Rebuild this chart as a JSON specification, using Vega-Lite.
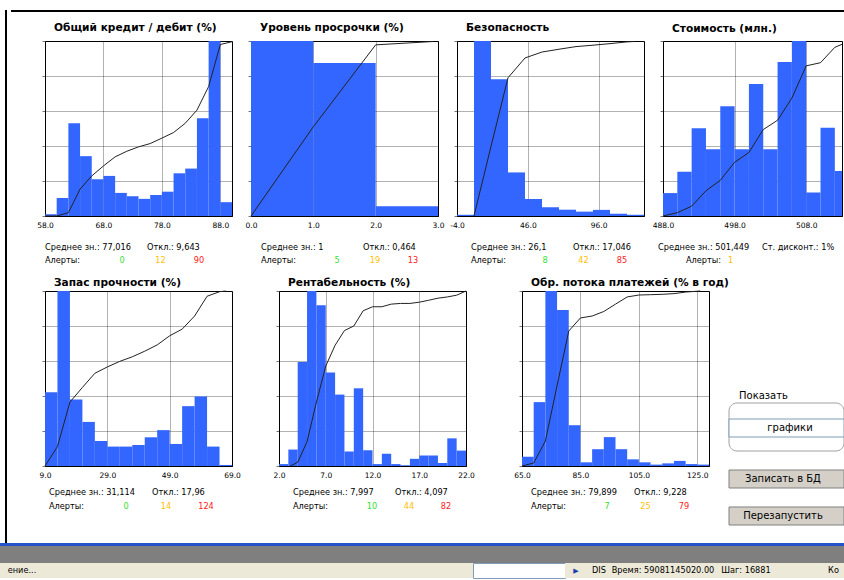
{
"$schema": "https://vega.github.io/schema/vega-lite/v6.json",
"background": "white",
"padding": {"left": 0, "top": 10, "right": 0, "bottom": 0},
"spacing": 0,
"datasets": {
"bars": [
{"panel":"p1","x0":58,"x1":60,"share":0.01},{"panel":"p1","x0":60,"x1":62,"share":0.103},{"panel":"p1","x0":62,"x1":64,"share":0.53},{"panel":"p1","x0":64,"x1":66,"share":0.342},{"panel":"p1","x0":66,"x1":68,"share":0.21},{"panel":"p1","x0":68,"x1":70,"share":0.229},{"panel":"p1","x0":70,"x1":72,"share":0.132},{"panel":"p1","x0":72,"x1":74,"share":0.113},{"panel":"p1","x0":74,"x1":76,"share":0.098},{"panel":"p1","x0":76,"x1":78,"share":0.12},{"panel":"p1","x0":78,"x1":80,"share":0.139},{"panel":"p1","x0":80,"x1":82,"share":0.244},{"panel":"p1","x0":82,"x1":84,"share":0.271},{"panel":"p1","x0":84,"x1":86,"share":0.558},{"panel":"p1","x0":86,"x1":88,"share":1.0},{"panel":"p1","x0":88,"x1":90,"share":0.079},
{"panel":"p2","x0":0,"x1":1,"share":1.0},{"panel":"p2","x0":1,"x1":2,"share":0.875},{"panel":"p2","x0":2,"x1":3,"share":0.056},
{"panel":"p3","x0":-4,"x1":8,"share":0.007},{"panel":"p3","x0":8,"x1":20,"share":1.0},{"panel":"p3","x0":20,"x1":32,"share":0.781},{"panel":"p3","x0":32,"x1":44,"share":0.249},{"panel":"p3","x0":44,"x1":56,"share":0.097},{"panel":"p3","x0":56,"x1":68,"share":0.05},{"panel":"p3","x0":68,"x1":80,"share":0.036},{"panel":"p3","x0":80,"x1":92,"share":0.025},{"panel":"p3","x0":92,"x1":104,"share":0.035},{"panel":"p3","x0":104,"x1":116,"share":0.013},{"panel":"p3","x0":116,"x1":128,"share":0.007},
{"panel":"p4","x0":488,"x1":490,"share":0.131},{"panel":"p4","x0":490,"x1":492,"share":0.253},{"panel":"p4","x0":492,"x1":494,"share":0.502},{"panel":"p4","x0":494,"x1":496,"share":0.382},{"panel":"p4","x0":496,"x1":498,"share":0.627},{"panel":"p4","x0":498,"x1":500,"share":0.382},{"panel":"p4","x0":500,"x1":502,"share":0.755},{"panel":"p4","x0":502,"x1":504,"share":0.382},{"panel":"p4","x0":504,"x1":506,"share":0.88},{"panel":"p4","x0":506,"x1":508,"share":1.0},{"panel":"p4","x0":508,"x1":510,"share":0.134},{"panel":"p4","x0":510,"x1":512,"share":0.504},{"panel":"p4","x0":512,"x1":514,"share":0.257},
{"panel":"p5","x0":9,"x1":13,"share":0.421},{"panel":"p5","x0":13,"x1":17,"share":1.0},{"panel":"p5","x0":17,"x1":21,"share":0.38},{"panel":"p5","x0":21,"x1":25,"share":0.252},{"panel":"p5","x0":25,"x1":29,"share":0.143},{"panel":"p5","x0":29,"x1":33,"share":0.111},{"panel":"p5","x0":33,"x1":37,"share":0.111},{"panel":"p5","x0":37,"x1":41,"share":0.12},{"panel":"p5","x0":41,"x1":45,"share":0.164},{"panel":"p5","x0":45,"x1":49,"share":0.205},{"panel":"p5","x0":49,"x1":53,"share":0.126},{"panel":"p5","x0":53,"x1":57,"share":0.342},{"panel":"p5","x0":57,"x1":61,"share":0.397},{"panel":"p5","x0":61,"x1":65,"share":0.111},{"panel":"p5","x0":65,"x1":69,"share":0.006},
{"panel":"p6","x0":2,"x1":3,"share":0.011},{"panel":"p6","x0":3,"x1":4,"share":0.094},{"panel":"p6","x0":4,"x1":5,"share":0.594},{"panel":"p6","x0":5,"x1":6,"share":1.0},{"panel":"p6","x0":6,"x1":7,"share":0.919},{"panel":"p6","x0":7,"x1":8,"share":0.534},{"panel":"p6","x0":8,"x1":9,"share":0.408},{"panel":"p6","x0":9,"x1":10,"share":0.083},{"panel":"p6","x0":10,"x1":11,"share":0.444},{"panel":"p6","x0":11,"x1":12,"share":0.09},{"panel":"p6","x0":12,"x1":13,"share":0.011},{"panel":"p6","x0":13,"x1":14,"share":0.07},{"panel":"p6","x0":14,"x1":15,"share":0.011},{"panel":"p6","x0":15,"x1":16,"share":0.004},{"panel":"p6","x0":16,"x1":17,"share":0.041},{"panel":"p6","x0":17,"x1":18,"share":0.06},{"panel":"p6","x0":18,"x1":19,"share":0.06},{"panel":"p6","x0":19,"x1":20,"share":0.017},{"panel":"p6","x0":20,"x1":21,"share":0.158},{"panel":"p6","x0":21,"x1":22,"share":0.088},
{"panel":"p7","x0":65,"x1":69,"share":0.053},{"panel":"p7","x0":69,"x1":73,"share":0.365},{"panel":"p7","x0":73,"x1":77,"share":1.0},{"panel":"p7","x0":77,"x1":81,"share":0.891},{"panel":"p7","x0":81,"x1":85,"share":0.233},{"panel":"p7","x0":85,"x1":89,"share":0.021},{"panel":"p7","x0":89,"x1":93,"share":0.096},{"panel":"p7","x0":93,"x1":97,"share":0.165},{"panel":"p7","x0":97,"x1":101,"share":0.096},{"panel":"p7","x0":101,"x1":105,"share":0.038},{"panel":"p7","x0":105,"x1":109,"share":0.021},{"panel":"p7","x0":109,"x1":113,"share":0.008},{"panel":"p7","x0":113,"x1":117,"share":0.015},{"panel":"p7","x0":117,"x1":121,"share":0.029},{"panel":"p7","x0":121,"x1":125,"share":0.011},{"panel":"p7","x0":125,"x1":129,"share":0.008}
],
"cum": [
{"panel":"p1","x":58,"cum":0},{"panel":"p1","x":60,"cum":0},{"panel":"p1","x":62,"cum":0.019},{"panel":"p1","x":64,"cum":0.154},{"panel":"p1","x":66,"cum":0.229},{"panel":"p1","x":68,"cum":0.286},{"panel":"p1","x":70,"cum":0.338},{"panel":"p1","x":72,"cum":0.37},{"panel":"p1","x":74,"cum":0.395},{"panel":"p1","x":76,"cum":0.414},{"panel":"p1","x":78,"cum":0.445},{"panel":"p1","x":80,"cum":0.477},{"panel":"p1","x":82,"cum":0.53},{"panel":"p1","x":84,"cum":0.605},{"panel":"p1","x":86,"cum":0.74},{"panel":"p1","x":88,"cum":0.98},{"panel":"p1","x":90,"cum":0.996},
{"panel":"p2","x":0,"cum":0},{"panel":"p2","x":1,"cum":0.51},{"panel":"p2","x":2,"cum":0.978},{"panel":"p2","x":2.92,"cum":0.997},
{"panel":"p3","x":8,"cum":0},{"panel":"p3","x":20,"cum":0.398},{"panel":"p3","x":32,"cum":0.79},{"panel":"p3","x":44,"cum":0.903},{"panel":"p3","x":56,"cum":0.937},{"panel":"p3","x":68,"cum":0.953},{"panel":"p3","x":80,"cum":0.968},{"panel":"p3","x":92,"cum":0.976},{"panel":"p3","x":104,"cum":0.985},{"panel":"p3","x":116,"cum":0.995},{"panel":"p3","x":121,"cum":0.997},
{"panel":"p4","x":488,"cum":0},{"panel":"p4","x":490,"cum":0.019},{"panel":"p4","x":492,"cum":0.056},{"panel":"p4","x":494,"cum":0.144},{"panel":"p4","x":496,"cum":0.204},{"panel":"p4","x":498,"cum":0.307},{"panel":"p4","x":500,"cum":0.363},{"panel":"p4","x":502,"cum":0.494},{"panel":"p4","x":504,"cum":0.547},{"panel":"p4","x":506,"cum":0.674},{"panel":"p4","x":508,"cum":0.858},{"panel":"p4","x":510,"cum":0.876},{"panel":"p4","x":512,"cum":0.964},{"panel":"p4","x":514,"cum":0.998},
{"panel":"p5","x":9,"cum":0},{"panel":"p5","x":13,"cum":0.111},{"panel":"p5","x":17,"cum":0.365},{"panel":"p5","x":21,"cum":0.449},{"panel":"p5","x":25,"cum":0.53},{"panel":"p5","x":29,"cum":0.566},{"panel":"p5","x":33,"cum":0.598},{"panel":"p5","x":37,"cum":0.624},{"panel":"p5","x":41,"cum":0.656},{"panel":"p5","x":45,"cum":0.692},{"panel":"p5","x":49,"cum":0.744},{"panel":"p5","x":53,"cum":0.782},{"panel":"p5","x":57,"cum":0.857},{"panel":"p5","x":61,"cum":0.97},{"panel":"p5","x":65,"cum":0.996},{"panel":"p5","x":67,"cum":1.0},
{"panel":"p6","x":3.2,"cum":0},{"panel":"p6","x":4,"cum":0.021},{"panel":"p6","x":5,"cum":0.139},{"panel":"p6","x":6,"cum":0.365},{"panel":"p6","x":7,"cum":0.571},{"panel":"p6","x":8,"cum":0.69},{"panel":"p6","x":9,"cum":0.774},{"panel":"p6","x":10,"cum":0.8},{"panel":"p6","x":11,"cum":0.887},{"panel":"p6","x":12,"cum":0.91},{"panel":"p6","x":13,"cum":0.91},{"panel":"p6","x":14,"cum":0.925},{"panel":"p6","x":15,"cum":0.929},{"panel":"p6","x":16,"cum":0.929},{"panel":"p6","x":17,"cum":0.936},{"panel":"p6","x":18,"cum":0.947},{"panel":"p6","x":19,"cum":0.959},{"panel":"p6","x":20,"cum":0.966},{"panel":"p6","x":21,"cum":0.976},{"panel":"p6","x":22,"cum":1.0},
{"panel":"p7","x":65,"cum":0},{"panel":"p7","x":69,"cum":0.017},{"panel":"p7","x":73,"cum":0.143},{"panel":"p7","x":77,"cum":0.459},{"panel":"p7","x":81,"cum":0.771},{"panel":"p7","x":85,"cum":0.846},{"panel":"p7","x":89,"cum":0.857},{"panel":"p7","x":93,"cum":0.883},{"panel":"p7","x":97,"cum":0.925},{"panel":"p7","x":101,"cum":0.966},{"panel":"p7","x":105,"cum":0.977},{"panel":"p7","x":109,"cum":0.979},{"panel":"p7","x":113,"cum":0.981},{"panel":"p7","x":117,"cum":0.985},{"panel":"p7","x":121,"cum":0.994},{"panel":"p7","x":126,"cum":1.0}
],
"stats": [
{"panel":"p1","row":"1","slot":"a","tone":"label","text":"Среднее зн.: 77,016"},{"panel":"p1","row":"1","slot":"b","tone":"label","text":"Откл.: 9,643"},{"panel":"p1","row":"2","slot":"a","tone":"label","text":"Алерты:"},{"panel":"p1","row":"2","slot":"green","tone":"green","text":"0"},{"panel":"p1","row":"2","slot":"yellow","tone":"yellow","text":"12"},{"panel":"p1","row":"2","slot":"red","tone":"red","text":"90"},
{"panel":"p2","row":"1","slot":"a","tone":"label","text":"Среднее зн.: 1"},{"panel":"p2","row":"1","slot":"b","tone":"label","text":"Откл.: 0,464"},{"panel":"p2","row":"2","slot":"a","tone":"label","text":"Алерты:"},{"panel":"p2","row":"2","slot":"green","tone":"green","text":"5"},{"panel":"p2","row":"2","slot":"yellow","tone":"yellow","text":"19"},{"panel":"p2","row":"2","slot":"red","tone":"red","text":"13"},
{"panel":"p3","row":"1","slot":"a","tone":"label","text":"Среднее зн.: 26,1"},{"panel":"p3","row":"1","slot":"b","tone":"label","text":"Откл.: 17,046"},{"panel":"p3","row":"2","slot":"a","tone":"label","text":"Алерты:"},{"panel":"p3","row":"2","slot":"green","tone":"green","text":"8"},{"panel":"p3","row":"2","slot":"yellow","tone":"yellow","text":"42"},{"panel":"p3","row":"2","slot":"red","tone":"red","text":"85"},
{"panel":"p4","row":"1","slot":"a","tone":"label","text":"Среднее зн.: 501,449"},{"panel":"p4","row":"1","slot":"b","tone":"label","text":"Ст. дисконт.: 1%"},{"panel":"p4","row":"2","slot":"c","tone":"label2","text":"Алерты:"},{"panel":"p4","row":"2","slot":"yellow","tone":"yellow","text":"1"},
{"panel":"p5","row":"1","slot":"a","tone":"label","text":"Среднее зн.: 31,114"},{"panel":"p5","row":"1","slot":"b","tone":"label","text":"Откл.: 17,96"},{"panel":"p5","row":"2","slot":"a","tone":"label","text":"Алерты:"},{"panel":"p5","row":"2","slot":"green","tone":"green","text":"0"},{"panel":"p5","row":"2","slot":"yellow","tone":"yellow","text":"14"},{"panel":"p5","row":"2","slot":"red","tone":"red","text":"124"},
{"panel":"p6","row":"1","slot":"a","tone":"label","text":"Среднее зн.: 7,997"},{"panel":"p6","row":"1","slot":"b","tone":"label","text":"Откл.: 4,097"},{"panel":"p6","row":"2","slot":"a","tone":"label","text":"Алерты:"},{"panel":"p6","row":"2","slot":"green","tone":"green","text":"10"},{"panel":"p6","row":"2","slot":"yellow","tone":"yellow","text":"44"},{"panel":"p6","row":"2","slot":"red","tone":"red","text":"82"},
{"panel":"p7","row":"1","slot":"a","tone":"label","text":"Среднее зн.: 79,899"},{"panel":"p7","row":"1","slot":"b","tone":"label","text":"Откл.: 9,228"},{"panel":"p7","row":"2","slot":"a","tone":"label","text":"Алерты:"},{"panel":"p7","row":"2","slot":"green","tone":"green","text":"7"},{"panel":"p7","row":"2","slot":"yellow","tone":"yellow","text":"25"},{"panel":"p7","row":"2","slot":"red","tone":"red","text":"79"}
],
"controls": [
{"item":"box","kind":"box"},{"item":"Показать","kind":"label"},{"item":"графики","kind":"field"},{"item":"Записать в БД","kind":"button"},{"item":"Перезапустить","kind":"button"}
]
},
"vconcat": [
{"hconcat": [
 {"width":1,"height":1,"view":{"fill":"white","stroke":null},"data":{"values":[]},"mark":"point"},
 {"width":2,"height":533,"view":{"fill":"#000","stroke":null},"data":{"values":[]},"mark":"point"},
 {"vconcat": [
  {"width":833,"height":2,"view":{"fill":"#000","stroke":null},"data":{"values":[]},"mark":"point"},
  {"vconcat": [
{"hconcat": [
 {"width":15,"height":175,"view":{"fill":"white","stroke":null},"data":{"values":[]},"mark":"point"},
 {"title":{"text":"Общий кредит / дебит (%)","dx":9},"width":187,"height":175,"resolve":{"scale":{"x":"independent","y":"independent"}},"layer":[
  {"layer":[
   {"data":{"name":"bars"},"transform":[{"filter":"datum.panel === 'p1'"}],"mark":{"type":"rect","color":"#3366ff"},
    "encoding":{"x":{"field":"x0","type":"quantitative","scale":{"domain":[58,90],"nice":false,"zero":false},"axis":{"values":[58,68,78,88],"format":".1f","title":null}},"x2":{"field":"x1"},
     "y":{"field":"share","type":"quantitative","scale":{"domain":[0,1],"nice":false},"axis":{"tickCount":5,"title":null}},"y2":{"datum":0}}},
   {"data":{"name":"cum"},"transform":[{"filter":"datum.panel === 'p1'"}],"mark":{"type":"line","color":"#222","strokeWidth":1},
    "encoding":{"x":{"field":"x","type":"quantitative"},"y":{"field":"cum","type":"quantitative"}}}]},
  {"data":{"name":"stats"},"transform":[{"filter":"datum.panel === 'p1' && datum.tone === 'label'"}],"mark":{"type":"text","align":"left","baseline":"middle"},
   "encoding":{"x":{"field":"slot","type":"nominal","scale":{"type":"point","domain":["a","b"],"range":[0,102],"padding":0},"axis":null},"y":{"field":"row","type":"nominal","scale":{"type":"point","domain":["1","2"],"range":[207,220],"padding":0},"axis":null},"text":{"field":"text"}}},
  {"data":{"name":"stats"},"transform":[{"filter":"datum.panel === 'p1' && datum.tone !== 'label'"}],"mark":{"type":"text","align":"center","baseline":"middle"},
   "encoding":{"x":{"field":"slot","type":"nominal","scale":{"type":"point","domain":["green","yellow","red"],"range":[77,154],"padding":0},"axis":null},"y":{"field":"row","type":"nominal","scale":{"type":"point","domain":["1","2"],"range":[207,220],"padding":0},"axis":null},"text":{"field":"text"},
    "color":{"field":"tone","type":"nominal","scale":{"domain":["label2","green","yellow","red"],"range":["#000000","#33e033","#ffbf00","#ff2020"]},"legend":null}}}]},
 {"title":{"text":"Уровень просрочки (%)","dx":9},"width":187,"height":175,"resolve":{"scale":{"x":"independent","y":"independent"}},"layer":[
  {"layer":[
   {"data":{"name":"bars"},"transform":[{"filter":"datum.panel === 'p2'"}],"mark":{"type":"rect","color":"#3366ff"},
    "encoding":{"x":{"field":"x0","type":"quantitative","scale":{"domain":[0,3],"nice":false,"zero":false},"axis":{"values":[0,1,2,3],"format":".1f","title":null}},"x2":{"field":"x1"},
     "y":{"field":"share","type":"quantitative","scale":{"domain":[0,1],"nice":false},"axis":{"tickCount":5,"title":null}},"y2":{"datum":0}}},
   {"data":{"name":"cum"},"transform":[{"filter":"datum.panel === 'p2'"}],"mark":{"type":"line","color":"#222","strokeWidth":1},
    "encoding":{"x":{"field":"x","type":"quantitative"},"y":{"field":"cum","type":"quantitative"}}}]},
  {"data":{"name":"stats"},"transform":[{"filter":"datum.panel === 'p2' && datum.tone === 'label'"}],"mark":{"type":"text","align":"left","baseline":"middle"},
   "encoding":{"x":{"field":"slot","type":"nominal","scale":{"type":"point","domain":["a","b"],"range":[10,112],"padding":0},"axis":null},"y":{"field":"row","type":"nominal","scale":{"type":"point","domain":["1","2"],"range":[207,220],"padding":0},"axis":null},"text":{"field":"text"}}},
  {"data":{"name":"stats"},"transform":[{"filter":"datum.panel === 'p2' && datum.tone !== 'label'"}],"mark":{"type":"text","align":"center","baseline":"middle"},
   "encoding":{"x":{"field":"slot","type":"nominal","scale":{"type":"point","domain":["green","yellow","red"],"range":[86,162],"padding":0},"axis":null},"y":{"field":"row","type":"nominal","scale":{"type":"point","domain":["1","2"],"range":[207,220],"padding":0},"axis":null},"text":{"field":"text"},
    "color":{"field":"tone","type":"nominal","scale":{"domain":["label2","green","yellow","red"],"range":["#000000","#33e033","#ffbf00","#ff2020"]},"legend":null}}}]},
 {"title":{"text":"Безопасность","dx":9},"width":187,"height":175,"resolve":{"scale":{"x":"independent","y":"independent"}},"layer":[
  {"layer":[
   {"data":{"name":"bars"},"transform":[{"filter":"datum.panel === 'p3'"}],"mark":{"type":"rect","color":"#3366ff"},
    "encoding":{"x":{"field":"x0","type":"quantitative","scale":{"domain":[-4,128],"nice":false,"zero":false},"axis":{"values":[-4,46,96],"format":".1f","labelExpr":"replace(datum.label, '\u2212', '-')","title":null}},"x2":{"field":"x1"},
     "y":{"field":"share","type":"quantitative","scale":{"domain":[0,1],"nice":false},"axis":{"tickCount":5,"title":null}},"y2":{"datum":0}}},
   {"data":{"name":"cum"},"transform":[{"filter":"datum.panel === 'p3'"}],"mark":{"type":"line","color":"#222","strokeWidth":1},
    "encoding":{"x":{"field":"x","type":"quantitative"},"y":{"field":"cum","type":"quantitative"}}}]},
  {"data":{"name":"stats"},"transform":[{"filter":"datum.panel === 'p3' && datum.tone === 'label'"}],"mark":{"type":"text","align":"left","baseline":"middle"},
   "encoding":{"x":{"field":"slot","type":"nominal","scale":{"type":"point","domain":["a","b"],"range":[14,116],"padding":0},"axis":null},"y":{"field":"row","type":"nominal","scale":{"type":"point","domain":["1","2"],"range":[207,220],"padding":0},"axis":null},"text":{"field":"text"}}},
  {"data":{"name":"stats"},"transform":[{"filter":"datum.panel === 'p3' && datum.tone !== 'label'"}],"mark":{"type":"text","align":"center","baseline":"middle"},
   "encoding":{"x":{"field":"slot","type":"nominal","scale":{"type":"point","domain":["green","yellow","red"],"range":[88,165],"padding":0},"axis":null},"y":{"field":"row","type":"nominal","scale":{"type":"point","domain":["1","2"],"range":[207,220],"padding":0},"axis":null},"text":{"field":"text"},
    "color":{"field":"tone","type":"nominal","scale":{"domain":["label2","green","yellow","red"],"range":["#000000","#33e033","#ffbf00","#ff2020"]},"legend":null}}}]},
 {"title":{"text":"Стоимость (млн.)","dx":9},"width":179,"height":175,"resolve":{"scale":{"x":"independent","y":"independent"}},"layer":[
  {"layer":[
   {"data":{"name":"bars"},"transform":[{"filter":"datum.panel === 'p4'"}],"mark":{"type":"rect","color":"#3366ff","clip":true},
    "encoding":{"x":{"field":"x0","type":"quantitative","scale":{"domain":[488,513],"nice":false,"zero":false},"axis":{"values":[488,498,508],"format":".1f","title":null}},"x2":{"field":"x1"},
     "y":{"field":"share","type":"quantitative","scale":{"domain":[0,1],"nice":false},"axis":{"tickCount":5,"title":null}},"y2":{"datum":0}}},
   {"data":{"name":"cum"},"transform":[{"filter":"datum.panel === 'p4'"}],"mark":{"type":"line","color":"#222","strokeWidth":1,"clip":true},
    "encoding":{"x":{"field":"x","type":"quantitative"},"y":{"field":"cum","type":"quantitative"}}}]},
  {"data":{"name":"stats"},"transform":[{"filter":"datum.panel === 'p4' && datum.tone === 'label'"}],"mark":{"type":"text","align":"left","baseline":"middle"},
   "encoding":{"x":{"field":"slot","type":"nominal","scale":{"type":"point","domain":["a","b"],"range":[-5,99],"padding":0},"axis":null},"y":{"field":"row","type":"nominal","scale":{"type":"point","domain":["1","2"],"range":[207,220],"padding":0},"axis":null},"text":{"field":"text"}}},
  {"data":{"name":"stats"},"transform":[{"filter":"datum.panel === 'p4' && datum.tone !== 'label'"}],"mark":{"type":"text","align":"left","baseline":"middle"},
   "encoding":{"x":{"field":"slot","type":"nominal","scale":{"type":"point","domain":["c","yellow"],"range":[23,65],"padding":0},"axis":null},"y":{"field":"row","type":"nominal","scale":{"type":"point","domain":["1","2"],"range":[207,220],"padding":0},"axis":null},"text":{"field":"text"},
    "color":{"field":"tone","type":"nominal","scale":{"domain":["label2","green","yellow","red"],"range":["#000000","#33e033","#ffbf00","#ff2020"]},"legend":null}}}]}
], "spacing": 19, "bounds": "flush"},
{"hconcat": [
 {"width":14,"height":175,"view":{"fill":"white","stroke":null},"data":{"values":[]},"mark":"point"},
 {"title":{"text":"Запас прочности (%)","dx":9,"offset":0},"width":187,"height":175,"resolve":{"scale":{"x":"independent","y":"independent"}},"layer":[
  {"layer":[
   {"data":{"name":"bars"},"transform":[{"filter":"datum.panel === 'p5'"}],"mark":{"type":"rect","color":"#3366ff"},
    "encoding":{"x":{"field":"x0","type":"quantitative","scale":{"domain":[9,69],"nice":false,"zero":false},"axis":{"values":[9,29,49,69],"format":".1f","title":null}},"x2":{"field":"x1"},
     "y":{"field":"share","type":"quantitative","scale":{"domain":[0,1],"nice":false},"axis":{"tickCount":5,"title":null}},"y2":{"datum":0}}},
   {"data":{"name":"cum"},"transform":[{"filter":"datum.panel === 'p5'"}],"mark":{"type":"line","color":"#222","strokeWidth":1},
    "encoding":{"x":{"field":"x","type":"quantitative"},"y":{"field":"cum","type":"quantitative"}}}]},
  {"data":{"name":"stats"},"transform":[{"filter":"datum.panel === 'p5' && datum.tone === 'label'"}],"mark":{"type":"text","align":"left","baseline":"middle"},
   "encoding":{"x":{"field":"slot","type":"nominal","scale":{"type":"point","domain":["a","b"],"range":[4,107],"padding":0},"axis":null},"y":{"field":"row","type":"nominal","scale":{"type":"point","domain":["1","2"],"range":[202,216],"padding":0},"axis":null},"text":{"field":"text"}}},
  {"data":{"name":"stats"},"transform":[{"filter":"datum.panel === 'p5' && datum.tone !== 'label'"}],"mark":{"type":"text","align":"center","baseline":"middle"},
   "encoding":{"x":{"field":"slot","type":"nominal","scale":{"type":"point","domain":["green","yellow","red"],"range":[81,161],"padding":0},"axis":null},"y":{"field":"row","type":"nominal","scale":{"type":"point","domain":["1","2"],"range":[202,216],"padding":0},"axis":null},"text":{"field":"text"},
    "color":{"field":"tone","type":"nominal","scale":{"domain":["label2","green","yellow","red"],"range":["#000000","#33e033","#ffbf00","#ff2020"]},"legend":null}}}]},
 {"width":7,"height":175,"view":{"stroke":null},"data":{"values":[]},"mark":"point"},
 {"title":{"text":"Рентабельность (%)","dx":9,"offset":0},"width":187,"height":175,"resolve":{"scale":{"x":"independent","y":"independent"}},"layer":[
  {"layer":[
   {"data":{"name":"bars"},"transform":[{"filter":"datum.panel === 'p6'"}],"mark":{"type":"rect","color":"#3366ff"},
    "encoding":{"x":{"field":"x0","type":"quantitative","scale":{"domain":[2,22],"nice":false,"zero":false},"axis":{"values":[2,7,12,17,22],"format":".1f","title":null}},"x2":{"field":"x1"},
     "y":{"field":"share","type":"quantitative","scale":{"domain":[0,1],"nice":false},"axis":{"tickCount":5,"title":null}},"y2":{"datum":0}}},
   {"data":{"name":"cum"},"transform":[{"filter":"datum.panel === 'p6'"}],"mark":{"type":"line","color":"#222","strokeWidth":1},
    "encoding":{"x":{"field":"x","type":"quantitative"},"y":{"field":"cum","type":"quantitative"}}}]},
  {"data":{"name":"stats"},"transform":[{"filter":"datum.panel === 'p6' && datum.tone === 'label'"}],"mark":{"type":"text","align":"left","baseline":"middle"},
   "encoding":{"x":{"field":"slot","type":"nominal","scale":{"type":"point","domain":["a","b"],"range":[14,116],"padding":0},"axis":null},"y":{"field":"row","type":"nominal","scale":{"type":"point","domain":["1","2"],"range":[202,216],"padding":0},"axis":null},"text":{"field":"text"}}},
  {"data":{"name":"stats"},"transform":[{"filter":"datum.panel === 'p6' && datum.tone !== 'label'"}],"mark":{"type":"text","align":"center","baseline":"middle"},
   "encoding":{"x":{"field":"slot","type":"nominal","scale":{"type":"point","domain":["green","yellow","red"],"range":[93,167],"padding":0},"axis":null},"y":{"field":"row","type":"nominal","scale":{"type":"point","domain":["1","2"],"range":[202,216],"padding":0},"axis":null},"text":{"field":"text"},
    "color":{"field":"tone","type":"nominal","scale":{"domain":["label2","green","yellow","red"],"range":["#000000","#33e033","#ffbf00","#ff2020"]},"legend":null}}}]},
 {"width":16,"height":175,"view":{"stroke":null},"data":{"values":[]},"mark":"point"},
 {"title":{"text":"Обр. потока платежей (% в год)","dx":9,"offset":0},"width":187,"height":175,"resolve":{"scale":{"x":"independent","y":"independent"}},"layer":[
  {"layer":[
   {"data":{"name":"bars"},"transform":[{"filter":"datum.panel === 'p7'"}],"mark":{"type":"rect","color":"#3366ff"},
    "encoding":{"x":{"field":"x0","type":"quantitative","scale":{"domain":[65,129],"nice":false,"zero":false},"axis":{"values":[65,85,105,125],"format":".1f","title":null}},"x2":{"field":"x1"},
     "y":{"field":"share","type":"quantitative","scale":{"domain":[0,1],"nice":false},"axis":{"tickCount":5,"title":null}},"y2":{"datum":0}}},
   {"data":{"name":"cum"},"transform":[{"filter":"datum.panel === 'p7'"}],"mark":{"type":"line","color":"#222","strokeWidth":1},
    "encoding":{"x":{"field":"x","type":"quantitative"},"y":{"field":"cum","type":"quantitative"}}}]},
  {"data":{"name":"stats"},"transform":[{"filter":"datum.panel === 'p7' && datum.tone === 'label'"}],"mark":{"type":"text","align":"left","baseline":"middle"},
   "encoding":{"x":{"field":"slot","type":"nominal","scale":{"type":"point","domain":["a","b"],"range":[9,112],"padding":0},"axis":null},"y":{"field":"row","type":"nominal","scale":{"type":"point","domain":["1","2"],"range":[202,216],"padding":0},"axis":null},"text":{"field":"text"}}},
  {"data":{"name":"stats"},"transform":[{"filter":"datum.panel === 'p7' && datum.tone !== 'label'"}],"mark":{"type":"text","align":"center","baseline":"middle"},
   "encoding":{"x":{"field":"slot","type":"nominal","scale":{"type":"point","domain":["green","yellow","red"],"range":[85,162],"padding":0},"axis":null},"y":{"field":"row","type":"nominal","scale":{"type":"point","domain":["1","2"],"range":[202,216],"padding":0},"axis":null},"text":{"field":"text"},
    "color":{"field":"tone","type":"nominal","scale":{"domain":["label2","green","yellow","red"],"range":["#000000","#33e033","#ffbf00","#ff2020"]},"legend":null}}}]},
 {"width":115,"height":234,"view":{"stroke":null},"data":{"name":"controls"},"resolve":{"scale":{"y":"independent"}},"layer":[
  {"transform":[{"filter":"datum.kind === 'box'"}],"mark":{"type":"rect","filled":false,"color":"#a0a0a0","strokeWidth":1,"cornerRadius":8},
   "encoding":{"y":{"field":"item","type":"nominal","scale":{"type":"band","domain":["box"],"range":[112,160],"paddingInner":0,"paddingOuter":0},"axis":null}}},
  {"transform":[{"filter":"datum.kind === 'field'"}],"mark":{"type":"rect","fill":"white","stroke":"#7f9db9","strokeWidth":1},
   "encoding":{"y":{"field":"item","type":"nominal","scale":{"type":"band","domain":["графики"],"range":[128,146],"paddingInner":0,"paddingOuter":0},"axis":null}}},
  {"transform":[{"filter":"datum.kind === 'button'"}],"mark":{"type":"rect","fill":"#d4d0c8","stroke":"#808080","strokeWidth":1},
   "encoding":{"y":{"field":"item","type":"nominal","scale":{"type":"band","domain":["Записать в БД","Перезапустить"],"range":[179,234],"paddingInner":0.5135,"paddingOuter":0},"axis":null}}},
  {"transform":[{"filter":"datum.kind === 'label'"}],"mark":{"type":"text","align":"left","baseline":"middle","dx":-47.5,"font":"DejaVu Sans","fontSize":10},
   "encoding":{"y":{"field":"item","type":"nominal","scale":{"type":"point","domain":["Показать","графики"],"range":[105,136],"padding":0},"axis":null},"text":{"field":"item"}}},
  {"transform":[{"filter":"datum.kind === 'field'"}],"mark":{"type":"text","align":"center","baseline":"middle","dx":3.5,"font":"DejaVu Sans","fontSize":10},
   "encoding":{"y":{"field":"item","type":"nominal","scale":{"type":"point","domain":["Показать","графики"],"range":[105,137],"padding":0},"axis":null},"text":{"field":"item"}}},
  {"transform":[{"filter":"datum.kind === 'button'"}],"mark":{"type":"text","align":"center","baseline":"middle","dx":-3.5,"font":"DejaVu Sans","fontSize":10},
   "encoding":{"y":{"field":"item","type":"nominal","scale":{"type":"point","domain":["Записать в БД","Перезапустить"],"range":[188,225],"padding":0},"axis":null},"text":{"field":"item"}}}
 ]}
], "spacing": 20, "bounds": "flush"}
  ], "spacing": 12}
 ], "spacing": 10}
], "spacing": 4},
{"vconcat": [
 {"width":844,"height":3,"view":{"fill":"#2452c8","stroke":null},"data":{"values":[]},"mark":"point"},
 {"width":844,"height":17,"view":{"fill":"#7f7f7f","stroke":null},"data":{"values":[]},"mark":"point"},
 {"hconcat": [
  {"width":44,"height":15,"view":{"fill":"#ece9d8","stroke":null},"data":{"values":[{"t":"ение..."}]},"mark":{"type":"text","baseline":"middle"},"encoding":{"text":{"field":"t"}}},
  {"width":336,"height":15,"view":{"fill":"#ece9d8","stroke":null},"data":{"values":[]},"mark":"point"},
  {"width":93,"height":15,"view":{"fill":"#ece9d8","stroke":null},"data":{"values":[]},"mark":"point"},
  {"width":92,"height":15,"view":{"fill":"white","stroke":"#7f9db9"},"data":{"values":[]},"mark":"point"},
  {"width":22,"height":15,"view":{"fill":"#ece9d8","stroke":null},"data":{"values":[{"t":"▶"}]},"mark":{"type":"text","baseline":"middle","color":"#1c3fae","fontSize":7},"encoding":{"text":{"field":"t"}}},
  {"width":24,"height":15,"view":{"fill":"#ece9d8","stroke":null},"data":{"values":[{"t":"DIS"}]},"mark":{"type":"text","baseline":"middle"},"encoding":{"text":{"field":"t"}}},
  {"width":104,"height":15,"view":{"fill":"#ece9d8","stroke":null},"data":{"values":[{"t":"Время: 59081145020.00"}]},"mark":{"type":"text","baseline":"middle"},"encoding":{"text":{"field":"t"}}},
  {"width":62,"height":15,"view":{"fill":"#ece9d8","stroke":null},"data":{"values":[{"t":"Шаг: 16881"}]},"mark":{"type":"text","baseline":"middle"},"encoding":{"text":{"field":"t"}}},
  {"width":46,"height":15,"view":{"fill":"#ece9d8","stroke":null},"data":{"values":[]},"mark":"point"},
  {"width":21,"height":15,"view":{"fill":"#ece9d8","stroke":null},"data":{"values":[{"t":"Ко"}]},"mark":{"type":"text","baseline":"middle"},"encoding":{"text":{"field":"t"}}}
 ], "spacing": 0, "bounds": "flush"}
], "spacing": 0, "bounds": "flush"}
],
"config": {
 "view": {"stroke": "#000", "strokeWidth": 1},
 "axis": {"labelFont": "DejaVu Sans", "labelFontSize": 7.5, "labelColor": "#000", "labelFlush": false, "labelOverlap": false, "zindex": 1, "domainColor": "#000", "domain": true},
 "axisX": {"grid": true, "gridColor": "#000", "gridOpacity": 0.3, "ticks": false, "labelPadding": 5},
 "axisY": {"grid": true, "gridColor": "#000", "gridOpacity": 0.3, "labels": false, "ticks": true, "tickSize": 3, "tickColor": "#777"},
 "title": {"font": "DejaVu Sans", "fontSize": 10.6, "fontWeight": "bold", "color": "#000", "anchor": "start", "frame": "group", "offset": 6},
 "text": {"font": "DejaVu Sans", "fontSize": 8.2, "color": "#000"}
}
}
